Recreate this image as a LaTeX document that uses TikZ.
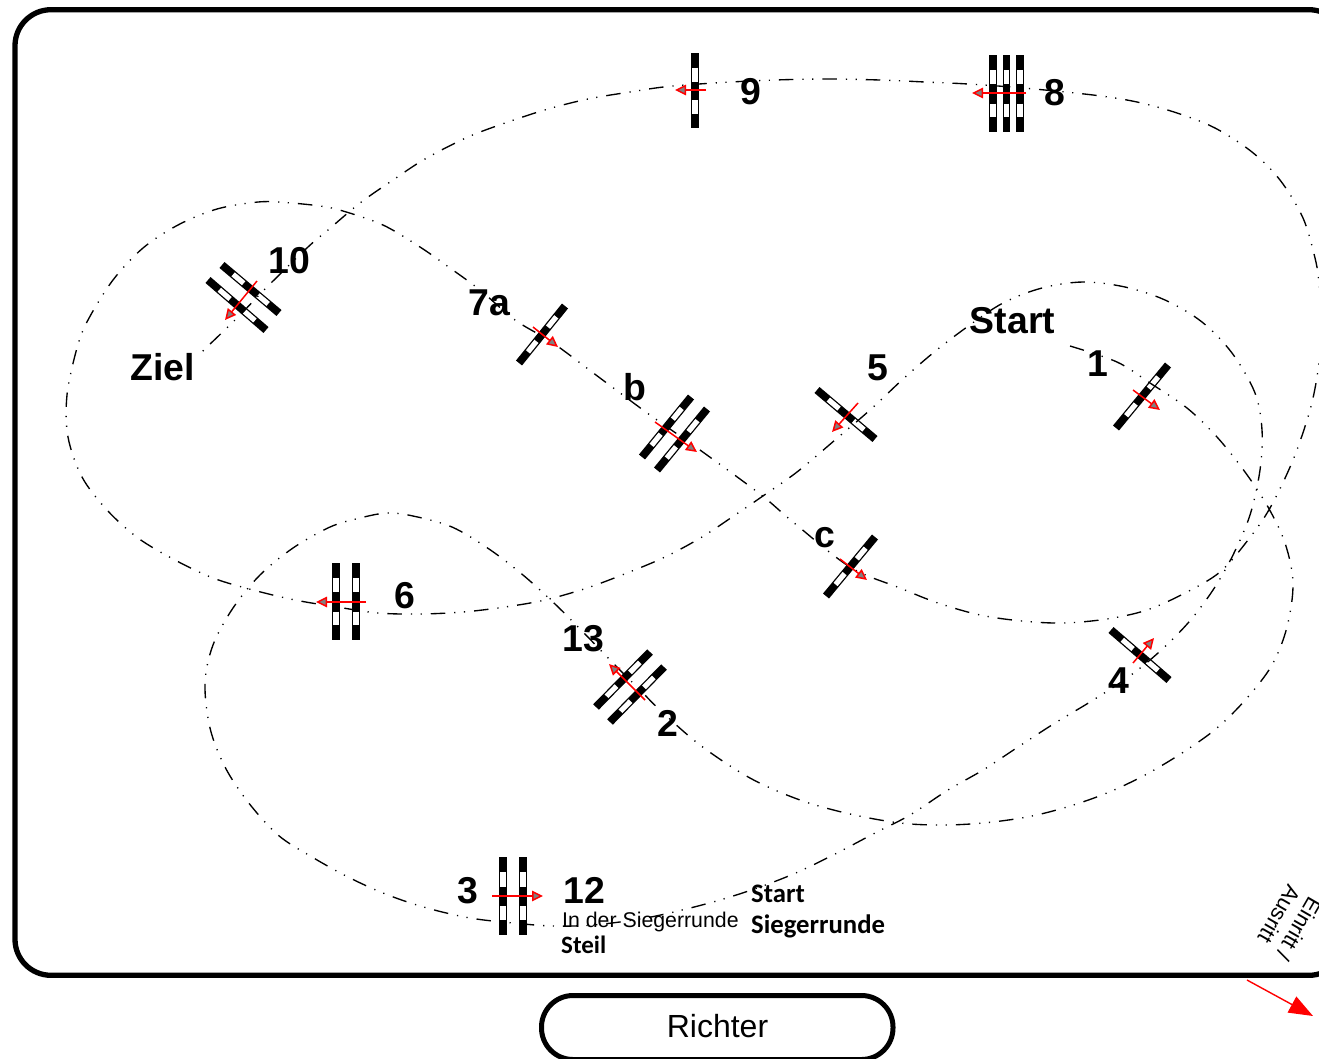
\documentclass[tikz,border=0pt]{standalone}
\usepackage{fontspec}
\setmainfont{Liberation Sans}
\newfontfamily\calbfont{Carlito}
\usetikzlibrary{arrows.meta,calc}
\tikzset{
 course/.style={line width=1.35pt,dash pattern=on 14.5pt off 9pt on 1.2pt off 8.5pt on 1.2pt off 9pt},
 redarr/.style={red,line width=1.5pt,-{Triangle[length=11pt,width=10.5pt,open,fill=gray]}},
 lab/.style={font=\fontsize{37.4}{37}\selectfont\bfseries,inner sep=0pt},
 small/.style={font=\fontsize{21.3}{22}\selectfont,inner sep=0pt,anchor=west},
 calb/.style={font=\calbfont\fontsize{25}{25}\selectfont\bfseries,inner sep=0pt,anchor=west},
 calc2/.style={font=\calbfont\fontsize{26.7}{27}\selectfont\bfseries,inner sep=0pt,anchor=west}
}
\newcommand\polebar[2]{%
 \draw[line width=7.8pt,black] (#1) -- (#2);
 \draw[line width=5.2pt,white] ($(#1)!.195!(#2)$) -- ($(#1)!.38!(#2)$);
 \draw[line width=5.2pt,white] ($(#1)!.63!(#2)$) -- ($(#1)!.81!(#2)$);
}
\begin{document}
\begin{tikzpicture}[x=1pt,y=-1pt]
\useasboundingbox (0,0) rectangle (1319,1058);
\clip (0,0) rectangle (1319,1058);
\draw[line width=5.3pt,rounded corners=36pt] (15,9.7) rectangle (1345,975.3);
\draw[line width=5pt,rounded corners=31.5pt] (541.5,995.5) rectangle (893,1059.5);
\node[font=\fontsize{32}{32}\selectfont,inner sep=0pt] (richter) at (717.5,1026) {Richter};
% obstacles
\polebar{695,53}{695,128}
\polebar{993,55}{993,132}\polebar{1006.5,55}{1006.5,132}\polebar{1020,55}{1020,132}
\polebar{222,265}{279,313}\polebar{208,280}{266,330}
\polebar{519,363}{565,306}
\polebar{642,457}{691,397}\polebar{657,470}{707,409}
\polebar{817,390}{875,439}
\polebar{826,596}{875,537}
\polebar{1116,428}{1168,365}
\polebar{336,563}{336,640}\polebar{356,563}{356,640}
\polebar{596,707}{650,652}\polebar{610,722}{664,667}
\polebar{1111,630}{1169,680}
\polebar{503,857}{503,935}\polebar{523,857}{523,935}
% course
\draw[course] plot[smooth,tension=.55] coordinates {
(1070,346)(1117,362)(1150,383)(1187,408)(1217,437)(1245,472)(1268,507)(1285,543)(1293,583)(1287,627)(1272,665)(1247,698)(1217,728)(1182,753)(1145,775)(1107,793)(1067,807)(1027,817)(983,823)(942,825)(900,823)(850,814)(800,800)(750,778)(700,745)(660,710)(640,690)(612,662)(583,632)(555,604)(523,575)(489,549)(452,527)(413,516)(387,513)(360,518)(330,527)(293,548)(260,575)(233,608)(213,645)(205,683)(210,728)(225,767)(248,802)(278,835)(312,857)(350,878)(388,895)(427,908)(470,918)(513,923)(553,926)(593,925)(640,919)(678,911)(720,900)(760,887)(798,872)(837,853)(875,833)(910,815)(948,790)(983,770)(1018,747)(1055,723)(1090,702)(1127,678)(1158,653)(1188,623)(1213,590)(1233,555)(1250,515)(1260,470)(1262,430)(1255,393)(1232,353)(1202,322)(1165,300)(1125,287)(1083,282)(1042,288)(1003,303)(967,327)(933,353)(902,380)(870,410)(835,440)(797,472)(760,498)(738,513)(702,537)(665,557)(627,573)(587,588)(545,600)(505,607)(463,612)(420,614)(378,613)(337,607)(295,600)(253,590)(213,578)(175,560)(138,538)(107,510)(82,477)(68,437)(67,395)(77,348)(88,320)(113,280)(143,248)(178,225)(217,209)(258,202)(285,202.5)(320,206)(343,211)(383,225)(420,247)(450,268)(480,290)(515,320)(553,343)(600,378)(650,415)(700,450)(760,494)(793,522)(850,567)(900,588)(938,603)(980,615)(1022,621)(1063,623)(1107,619)(1147,610)(1185,593)(1220,572)(1248,540)(1270,508)(1293,460)(1310,410)(1318,370)(1322,325)(1319,283)(1315,258)(1303,218)(1280,180)(1252,152)(1215,128)(1177,113)(1137,102)(1093,95)(1023,88)(968,84)(925,82)(880,80)(820,79)(750,81)(673,86)(630,92)(588,99)(548,109)(508,122)(468,137)(425,159)(393,180)(360,203)(328,230)(308,247)(267,287)(237,318)(207,347)(197,357)};
% arrows
\draw[redarr] (706,90)--(675,90);
\draw[redarr] (1026,93)--(972,93);
\draw[redarr] (257,281)--(225,320);
\draw[redarr] (533,327)--(558,347);
\draw[redarr] (655,422)--(697,452);
\draw[redarr] (858,403)--(832,432);
\draw[redarr] (840,559)--(867,580);
\draw[redarr] (1133,390)--(1160,410);
\draw[redarr] (366,602)--(316,602);
\draw[redarr] (645,700)--(609,664);
\draw[redarr] (1133,663)--(1154,638);
\draw[redarr] (492,896)--(543,896);
\draw[red,line width=1.4pt,-{Triangle[length=24pt,width=18pt]}] (1247,980)--(1313,1016);
% labels
\node[lab] (n9) at (751.2,92) {9};
\node[lab] (n8) at (1055,93) {8};
\node[lab] (n10) at (289.7,261) {10};
\node[lab] (n7a) at (489,303) {7a};
\node[lab] (nb) at (635,387) {b};
\node[lab] (nstart) at (1012.5,321) {Start};
\node[lab] (n5) at (877.5,368) {5};
\node[lab] (n1) at (1097.5,364) {1};
\node[lab] (nziel) at (162.5,367) {Ziel};
\node[lab] (nc) at (824.7,537.5) {c};
\node[lab] (n6) at (404.7,596) {6};
\node[lab] (n13) at (583.7,639) {13};
\node[lab] (n2) at (667.7,723) {2};
\node[lab] (n4) at (1118.7,681) {4};
\node[lab] (n3) at (467.7,891) {3};
\node[lab] (n12) at (584.5,890.5) {12};
\node[small] (sieg) at (562,921.5) {In der Siegerrunde};
\node[calb] (steil) at (561,945) {Steil};
\node[calc2] (st) at (751,893.5) {Start};
\node[calc2] (sr) at (751,926.5) {Siegerrunde};
\node[font=\fontsize{22}{24}\selectfont,inner sep=0pt,rotate=-120,align=left] (ein) at (1289,923) {Einritt /\\Ausritt};
\end{tikzpicture}
\end{document}
